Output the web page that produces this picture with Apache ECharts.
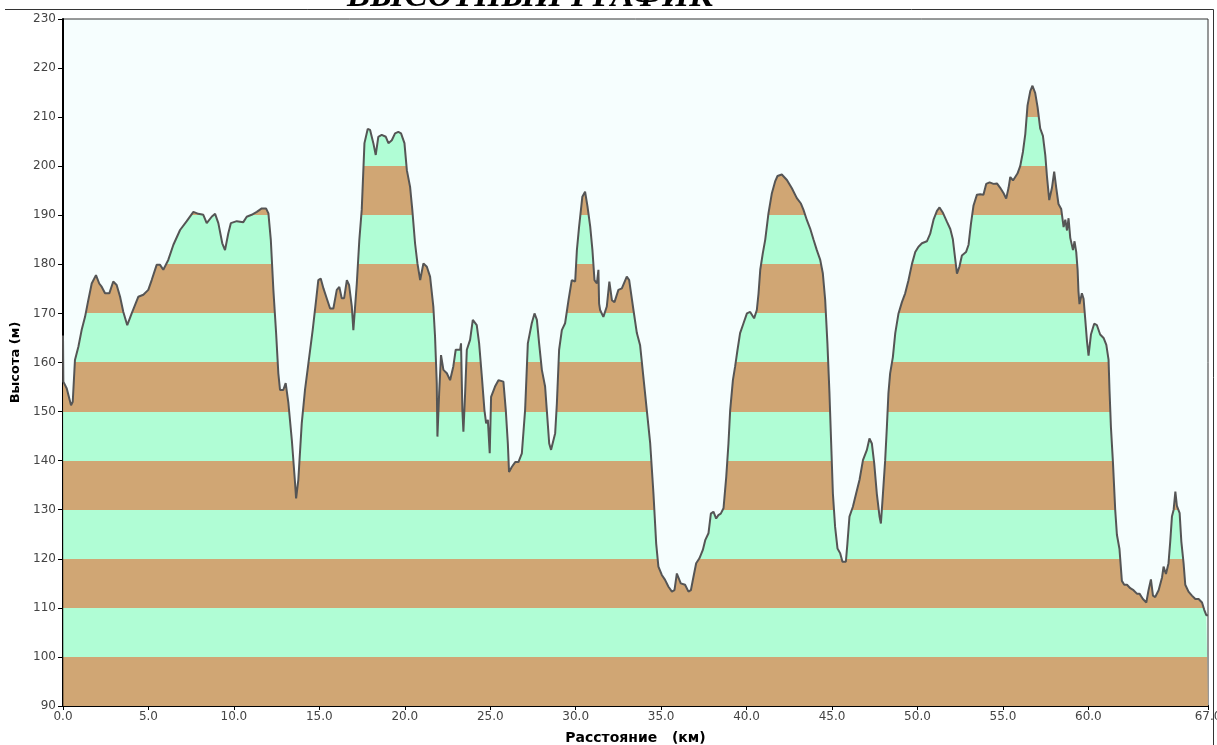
<!DOCTYPE html>
<html><head><meta charset="utf-8">
<script src="https://cdn.jsdelivr.net/npm/echarts@6/dist/echarts.min.js"></script>
<style>html,body{margin:0;padding:0;background:#fff}#c{width:1217px;height:745px}</style>
</head><body><div id="c"></div><script>
// Elevation profile: [distance km, elevation m]
const profileSeg1 = [[0,165.5],[0.02,156.1],[0.22,154.7],[0.47,151.3],[0.57,152.0],[0.70,160.5],[0.90,163.2],[1.09,166.6],[1.29,169.3],[1.48,172.7],[1.68,176.1],[1.93,177.8],[2.12,176.1],[2.27,175.4],[2.46,174.1],[2.71,174.1],[2.94,176.5],[3.14,175.8],[3.34,173.4],[3.53,170.3],[3.76,167.6],[4.02,170.0],[4.41,173.4],[4.70,173.8],[4.99,174.8],[5.19,176.8],[5.48,179.9],[5.68,179.9],[5.87,178.9],[6.16,180.9],[6.46,184.0],[6.85,187.0],[7.24,188.8],[7.63,190.7],[7.92,190.3],[8.21,190.1],[8.41,188.4],[8.70,189.7],[8.90,190.3],[9.09,188.4],[9.32,184.3],[9.48,182.9],[9.67,186.3],[9.82,188.4],[10.17,188.8],[10.55,188.6],[10.75,189.7],[11.04,190.1],[11.34,190.7],[11.63,191.4],[11.88,191.4],[12.02,190.4],[12.16,185.0],[12.31,174.8],[12.47,166.0],[12.60,157.8],[12.70,154.4],[12.89,154.4],[13.03,155.8],[13.19,151.7],[13.39,144.2],[13.58,135.4],[13.64,132.3],[13.77,136.1],[13.97,147.6],[14.16,154.4],[14.36,159.8],[14.61,166.6],[14.81,172.7],[14.94,176.8],[15.08,177.1],[15.24,175.1],[15.43,173.1],[15.63,171.0],[15.82,171.0],[16.02,174.8],[16.17,175.4],[16.31,173.1],[16.45,173.1],[16.61,176.8],[16.74,175.8],[16.90,171.4],[16.99,166.6],[17.19,176.0],[17.34,185.0]];
const profileSeg2 = [[17.48,191.1],[17.64,204.7],[17.83,207.6],[17.97,207.4],[18.16,204.7],[18.30,202.3],[18.45,206.0],[18.65,206.4],[18.89,206.0],[19.04,204.7],[19.24,205.3],[19.43,206.7],[19.62,207.0],[19.78,206.7],[19.98,204.7],[20.12,199.2],[20.31,195.8],[20.44,191.1],[20.60,184.3],[20.74,180.2],[20.90,176.8],[21.09,180.2],[21.29,179.5],[21.48,177.5],[21.67,171.4],[21.77,165.3],[21.87,155.8],[21.91,144.9],[22.01,153.7],[22.12,161.5],[22.26,158.5],[22.46,157.8],[22.65,156.4],[22.84,159.2],[22.98,162.6],[23.24,162.6],[23.29,163.9],[23.37,150.3],[23.43,145.9],[23.53,153.7],[23.63,162.6],[23.82,164.6],[23.98,168.7],[24.21,167.6],[24.35,163.9],[24.51,157.1],[24.66,150.3],[24.76,147.6],[24.86,148.3],[24.97,141.5],[25.05,153.0],[25.28,155.1],[25.48,156.4],[25.77,156.1],[25.91,150.3],[26.03,143.5],[26.10,137.7],[26.26,138.7],[26.46,139.7],[26.65,139.7],[26.85,141.5],[27.04,150.3],[27.20,163.9],[27.43,168.0],[27.59,170.0],[27.73,168.7],[27.86,163.9],[28.02,158.5],[28.21,155.1],[28.31,150.3],[28.45,143.5],[28.56,142.2],[28.80,145.6],[28.90,151.7],[29.03,162.6],[29.19,166.6],[29.38,168.0],[29.58,172.7],[29.77,176.8],[29.97,176.5],[30.07,182.9],[30.20,187.7],[30.39,193.8],[30.55,194.8],[30.69,191.8],[30.85,187.7],[30.98,182.9],[31.10,176.8],[31.24,176.1],[31.28,176.5],[31.33,178.9],[31.37,172.0],[31.43,170.7],[31.62,169.3],[31.82,171.4],[31.97,176.5],[32.12,172.7],[32.27,172.3],[32.50,174.8],[32.70,175.1],[32.99,177.5],[33.13,176.8],[33.38,170.7],[33.58,166.0],[33.77,163.5]];
const profileSeg3 = [[34.06,153.7],[34.36,143.5],[34.55,133.3],[34.71,123.1],[34.84,118.4],[35.04,116.7],[35.23,115.7],[35.43,114.3],[35.63,113.3],[35.78,113.6],[35.92,117.0],[36.01,117.3],[36.15,115.0],[36.40,114.7],[36.60,113.3],[36.74,113.6],[36.89,116.3],[37.05,119.1],[37.24,120.1],[37.44,121.8],[37.58,123.8],[37.77,125.2],[37.91,129.2],[38.06,129.6],[38.22,128.2],[38.35,128.9],[38.49,129.2],[38.65,130.3],[38.81,136.7],[38.94,143.5],[39.04,150.3],[39.20,156.4],[39.33,159.2],[39.47,162.6],[39.62,166.0],[39.82,168.0],[40.02,170.0],[40.21,170.3],[40.44,169.0],[40.60,170.7],[40.70,174.1],[40.80,178.9],[40.95,182.3],[41.09,185.0],[41.28,190.4],[41.48,194.5],[41.67,196.9],[41.81,198.0],[42.06,198.3],[42.36,197.2],[42.65,195.5],[42.94,193.5],[43.18,192.4],[43.33,191.1],[43.53,189.0],[43.72,187.3],[43.92,185.0],[44.11,182.9],[44.31,180.9],[44.46,178.2],[44.60,172.7],[44.73,163.9],[44.85,153.7],[44.95,143.5],[45.05,133.3],[45.18,126.5],[45.32,122.1],[45.48,121.1],[45.61,119.4],[45.81,119.4],[45.90,123.1],[46.02,128.6],[46.22,130.6],[46.41,133.3],[46.61,136.1],[46.81,140.1],[47.04,142.2],[47.19,144.5],[47.33,143.5],[47.47,139.4],[47.62,133.3],[47.78,128.6],[47.86,127.2],[47.98,133.3],[48.11,140.1],[48.21,146.9],[48.30,153.7],[48.40,157.8],[48.56,161.1],[48.70,166.0],[48.89,170.0]];
const profileSeg4 = [[49.09,172.3],[49.28,174.1],[49.47,176.7],[49.67,180.0],[49.87,182.5],[50.06,183.6],[50.26,184.3],[50.55,184.7],[50.74,186.2],[50.94,189.1],[51.14,190.9],[51.29,191.6],[51.49,190.5],[51.72,188.7],[51.92,187.2],[52.07,185.1],[52.21,181.0],[52.31,178.1],[52.46,179.6],[52.60,181.8],[52.84,182.5],[52.99,184.0],[53.13,188.3],[53.28,192.0],[53.48,194.2],[53.67,194.3],[53.86,194.2],[54.02,196.4],[54.22,196.7],[54.45,196.4],[54.65,196.5],[54.84,195.6],[55.04,194.5],[55.19,193.4],[55.33,195.6],[55.43,197.8],[55.59,197.1],[55.72,197.8],[55.85,198.5],[56.01,200.0],[56.17,202.9],[56.31,206.6],[56.44,212.4],[56.60,215.3],[56.73,216.4],[56.89,214.9],[57.03,212.0],[57.18,207.7],[57.34,206.2],[57.48,202.2],[57.58,197.8],[57.71,193.1],[57.87,195.6],[58.00,198.9],[58.12,195.6],[58.25,192.3],[58.41,191.3],[58.55,187.6],[58.65,189.1],[58.75,186.9],[58.84,189.4],[58.94,185.4],[59.10,182.9],[59.19,184.7],[59.29,182.5],[59.37,178.9],[59.42,174.5],[59.48,171.9],[59.62,174.1],[59.72,173.0],[59.82,168.7],[59.92,164.3],[60.01,161.4],[60.15,165.7],[60.34,167.9],[60.50,167.6],[60.69,165.7],[60.89,165.0],[61.05,163.6],[61.18,160.6],[61.24,154.1],[61.32,146.8],[61.44,139.5],[61.57,130.0],[61.67,124.9],[61.82,122.0],[61.96,115.5],[62.10,114.7],[62.26,114.7],[62.45,114.0],[62.64,113.6],[62.84,112.9],[62.99,112.9],[63.19,111.8],[63.39,111.1],[63.52,113.6],[63.66,115.8],[63.78,112.5],[63.91,112.2],[64.11,113.6],[64.31,116.2],[64.40,118.4],[64.54,116.9],[64.69,119.1],[64.79,123.5],[64.89,128.6],[64.99,130.0],[65.09,133.7],[65.18,130.8],[65.34,129.3],[65.44,123.5],[65.57,119.1],[65.67,114.7],[65.86,113.3],[66.06,112.5],[66.26,111.8],[66.45,111.8],[66.65,111.1],[66.78,109.6],[66.90,108.5],[67.0,108.5]];

const xTickValues = [0,5,10,15,20,25,30,35,40,45,50,55,60,67];
const bandEdges = [90,100,110,120,130,140,150,160,170,180,190,200,210,220,230];
const titleText = 'ВЫСОТНЫЙ ГРАФИК';
const xName = 'Расстояние   (км)';
const yName = 'Высота (м)';

const BROWN = '#d0a674';
const GREEN = '#b0fdd5';

const profile = [].concat(profileSeg1, profileSeg2, profileSeg3, profileSeg4);
const pieces = [];
for (let i = 0; i < bandEdges.length - 1; i++) {
  pieces.push({gte: bandEdges[i], lt: bandEdges[i + 1], color: i % 2 === 0 ? BROWN : GREEN});
}

const chart = echarts.init(document.getElementById('c'), null, {renderer: 'canvas'});
const labelFont = {fontFamily: 'DejaVu Sans', fontSize: 12, color: '#444'};
chart.setOption({
  animation: false,
  backgroundColor: '#ffffff',
  grid: {left: 63, right: 9, top: 19, bottom: 39, outerBoundsMode: 'none', containLabel: false,
         show: true, backgroundColor: '#f6fefe', borderColor: '#333', borderWidth: 1},
  xAxis: {
    type: 'value', min: 0, max: 67, interval: 5,
    name: xName, nameLocation: 'middle', nameGap: 25,
    nameTextStyle: {fontFamily: 'DejaVu Sans', fontSize: 14, fontWeight: 'bold', color: '#000'},
    axisLine: {show: true, onZero: false, lineStyle: {color: '#000', width: 2}},
    axisTick: {show: true, customValues: xTickValues, length: 4, lineStyle: {color: '#000', width: 1}},
    axisLabel: Object.assign({customValues: xTickValues, margin: 5, formatter: v => v.toFixed(1)}, labelFont),
    splitLine: {show: false}
  },
  yAxis: {
    type: 'value', min: 90, max: 230, interval: 10,
    name: yName, nameLocation: 'middle', nameGap: 35,
    nameTextStyle: {fontFamily: 'DejaVu Sans', fontSize: 13, fontWeight: 'bold', color: '#000'},
    axisLine: {show: true, lineStyle: {color: '#000', width: 2}},
    axisTick: {show: true, length: 5, lineStyle: {color: '#000', width: 1}},
    axisLabel: Object.assign({margin: 7}, labelFont),
    splitLine: {show: false}
  },
  visualMap: {type: 'piecewise', show: false, dimension: 1, seriesIndex: 0, pieces: pieces, outOfRange: {color: GREEN}},
  series: [{
    type: 'line', data: profile, symbol: 'none', showSymbol: false, silent: true,
    lineStyle: {color: '#555', width: 2},
    areaStyle: {opacity: 1, origin: 'start'}
  }],
  graphic: [
    {type: 'text', x: 530, y: -3.5, z: 100, style: {text: titleText, fontFamily: 'Liberation Serif', fontSize: 35, fontWeight: 'bold', fontStyle: 'italic', fill: '#000', align: 'center', verticalAlign: 'middle'}},
    {type: 'line', z: 100, shape: {x1: 5, y1: 9.5, x2: 1213.5, y2: 9.5}, style: {stroke: '#333', lineWidth: 1}},
    {type: 'line', z: 100, shape: {x1: 1213.5, y1: 9.5, x2: 1213.5, y2: 745}, style: {stroke: '#333', lineWidth: 1}}
  ]
});
</script></body></html>
